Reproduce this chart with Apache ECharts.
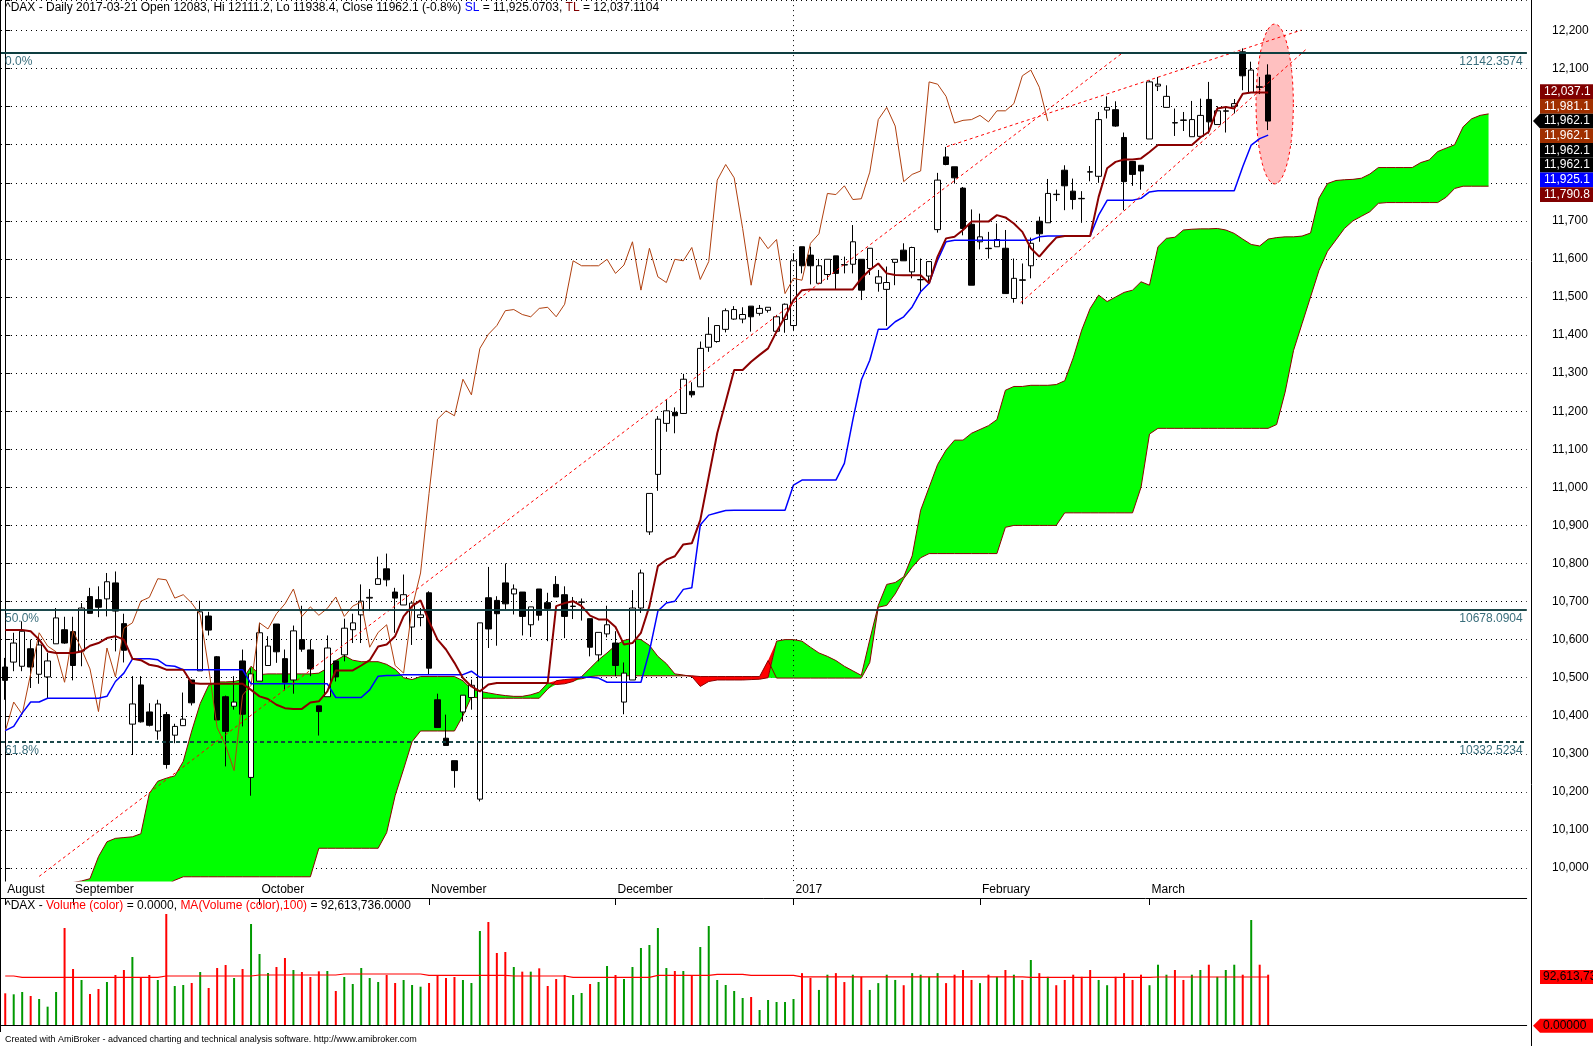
<!DOCTYPE html>
<html>
<head>
<meta charset="utf-8">
<title>^DAX Daily</title>
<script src="https://cdn.jsdelivr.net/npm/echarts@6/dist/echarts.min.js"></script>
<style>
html, body { margin: 0; padding: 0; background: #fff; }
#chart { width: 1593px; height: 1046px; }
</style>
</head>
<body>
<div id="chart"></div>
<script>
// ---- data ----
const monthNames = ['August', 'September', 'October', 'November', 'December', '2017', 'February', 'March'];
const monthStarts = [0, 8, 30, 50, 72, 93, 115, 135];

const opens = [10528,10541,10530,10576,10509,10502,10589,10626,10621,10570, 10713,10705,10707,10749,10642,10378,10481,10410,10360,10403,
  10349,10374,10494,10518,10662,10555,10450,10425,10544,10238, 10491,10532,10641,10550,10494,10600,10573,10426,10450,10544,
  10560,10626,10665,10709,10745,10786,10725,10691,10633,10658, 10723,10442,10341,10282,10410,10448,10181,10710,10703,10749,
  10720,10725,10639,10733,10697,10745,10718,10687,10698,10655, 10560,10615,10591,10436,10494,10683,10883,11034,11168,11197,
  11194,11252,11264,11368,11383,11415,11442,11442,11476,11457, 11465,11410,11441,11425,11632,11610,11536,11559,11608,11585,
  11586,11599,11575,11536,11520,11591,11623,11566,11545,11555, 11677,11868,11842,11786,11691,11645,11628,11632,11628,11496,
  11545,11582,11699,11695,11770,11833,11778,11759,11829,11817, 11991,11992,11919,11856,11846,11915,12054,11998,11958,11965,
  11921,11922,12019,11953,11988,12001,12144,12037,12052,12083];
const highs = [10552,10618,10648,10600,10609,10565,10683,10660,10660,10696, 10736,10740,10775,10779,10668,10504,10504,10433,10442,10410,
  10379,10461,10494,10702,10673,10557,10453,10504,10574,10525, 10644,10609,10641,10574,10637,10689,10600,10426,10611,10544,
  10655,10668,10745,10733,10818,10826,10736,10771,10698,10683, 10727,10458,10403,10282,10454,10495,10644,10791,10714,10800,
  10745,10725,10686,10733,10723,10767,10740,10712,10708,10655, 10619,10689,10622,10540,10730,10784,10984,11187,11229,11210,
  11298,11276,11383,11447,11425,11470,11476,11473,11476,11479, 11473,11453,11483,11615,11632,11632,11600,11599,11608,11606,
  11689,11599,11628,11571,11580,11599,11641,11632,11601,11593, 11826,11894,11842,11789,11730,11719,11671,11693,11676,11601,
  11588,11656,11711,11810,11782,11846,11811,11778,11844,11986, 12027,12014,11932,11856,11846,12069,12078,12056,11995,11986,
  12015,12021,12065,12001,12001,12020,12153,12118,12078,12111.2];
const lows = [10442,10517,10517,10473,10484,10446,10589,10589,10493,10530, 10669,10659,10661,10569,10540,10297,10382,10372,10337,10261,
  10328,10374,10427,10518,10611,10389,10267,10416,10372,10190, 10491,10532,10539,10467,10458,10568,10504,10348,10450,10490,
  10543,10591,10591,10675,10745,10740,10618,10691,10586,10635, 10508,10369,10322,10211,10385,10416,10175,10578,10584,10679,
  10666,10611,10607,10650,10596,10712,10604,10654,10650,10556, 10543,10606,10504,10404,10494,10670,10875,10991,11146,11142,
  11193,11236,11264,11356,11380,11407,11440,11431,11409,11451, 11459,11407,11406,11413,11562,11533,11536,11545,11520,11562,
  11562,11492,11558,11514,11424,11531,11595,11549,11510,11536, 11669,11846,11798,11662,11531,11625,11601,11632,11509,11485,
  11481,11549,11645,11695,11752,11728,11730,11695,11804,11800, 11969,11947,11728,11792,11782,11915,12041,11998,11923,11936,
  11921,11921,11929,11953,11932,11982,12043,12037,12033,11938.4];
const closes = [10493,10591,10622,10528,10586,10544,10657,10591,10532,10683, 10669,10685,10752,10675,10572,10431,10384,10375,10431,10272,
  10372,10391,10434,10673,10625,10389,10359,10436,10404,10510, 10618,10583,10568,10488,10623,10575,10523,10411,10578,10502,
  10630,10644,10701,10711,10760,10757,10709,10718,10696,10665, 10525,10369,10322,10256,10454,10480,10644,10628,10668,10694,
  10733,10661,10686,10664,10682,10712,10661,10688,10699,10580, 10619,10639,10532,10512,10683,10775,10984,11179,11201,11188,
  11284,11243,11365,11402,11425,11464,11467,11454,11448,11470, 11473,11448,11481,11595,11582,11582,11582,11599,11562,11584,
  11645,11518,11628,11553,11538,11599,11595,11630,11546,11593, 11807,11848,11813,11680,11531,11658,11627,11651,11509,11549,
  11544,11641,11666,11772,11769,11792,11756,11758,11828,11966, 11998,11949,11803,11822,11831,12065,12059,12027,11957,11964,
  11966,11977,11960,11989,11989,12008,12081,12096,12051,11962.1];

// turning line (TL) and standard line (SL)
const tenkan = [10625,10625,10625,10622,10600,10569,10565,10565,10565,10569, 10584,10591,10604,10609,10600,10550,10546,10534,10530,10521,
  10521,10521,10486,10484,10484,10484,10484,10484,10484,10468, 10451,10444,10429,10420,10418,10418,10435,10438,10464,10519,
  10519,10519,10532,10546,10582,10587,10609,10661,10688,10703, 10648,10600,10574,10539,10499,10477,10464,10482,10486,10486,
  10486,10486,10486,10486,10486,10688,10696,10701,10688,10663, 10653,10653,10633,10587,10591,10618,10688,10793,10810,10819,
  10850,10853,10914,11028,11142,11225,11308,11308,11330,11348, 11365,11409,11448,11492,11518,11520,11520,11520,11520,11520,
  11520,11549,11571,11588,11562,11558,11557,11557,11557,11536, 11606,11654,11658,11676,11698,11698,11698,11715,11709,11693,
  11671,11628,11606,11632,11656,11660,11660,11660,11660,11763, 11838,11855,11861,11861,11864,11881,11899,11899,11899,11899,
  11899,11919,11934,11995,11999,11995,12034,12037,12037,12037.1];
const kijun = [10361,10372,10407,10436,10436,10446,10446,10446,10446,10446, 10446,10446,10451,10490,10512,10549,10550,10550,10547,10532,
  10530,10521,10521,10521,10521,10521,10521,10521,10521,10484, 10484,10484,10484,10484,10484,10484,10484,10484,10484,10448,
  10448,10448,10448,10468,10504,10506,10506,10508,10508,10508, 10508,10508,10508,10508,10508,10517,10501,10501,10501,10501,
  10501,10501,10501,10501,10501,10501,10501,10501,10501,10501, 10499,10488,10488,10488,10488,10488,10569,10675,10696,10701,
  10732,10736,10901,10927,10933,10939,10940,10940,10940,10940, 10940,10940,10940,11006,11019,11019,11019,11019,11019,11063,
  11177,11282,11334,11415,11415,11435,11448,11474,11514,11536, 11597,11645,11649,11649,11649,11649,11649,11649,11649,11649,
  11649,11649,11658,11660,11660,11660,11660,11660,11660,11715, 11754,11754,11754,11754,11759,11776,11779,11779,11779,11779,
  11779,11779,11779,11779,11779,11779,11842,11899,11916,11925.07];

// cloud spans, already shifted forward (bars 0..175)
const spanA = [9940,9940,9940,9940,9940,9940,9940,9940,9962,9966, 9972,10030,10069,10078,10080,10082,10090,10196,10228,10236,
  10242,10280,10360,10432,10480,10489,10489,10490,10495,10530, 10508,10510,10510,10510,10510,10510,10510,10512,10525,10545,
  10558,10546,10542,10542,10542,10535,10522,10500,10495,10503, 10503,10503,10503,10503,10492,10470,10464,10460,10456,10453,
  10451,10451,10455,10462,10486,10482,10484,10490,10503,10525, 10547,10565,10585,10598,10603,10600,10585,10556,10537,10510,
  10507,10503,10477,10490,10494,10494,10494,10494,10495,10496, 10500,10596,10600,10600,10596,10580,10565,10556,10545,10530,
  10518,10506,10600,10690,10745,10750,10765,10820,10940,11000, 11060,11098,11124,11124,11142,11152,11162,11178,11255,11265,
  11265,11268,11268,11268,11270,11280,11340,11413,11470,11505, 11488,11500,11512,11518,11540,11531,11632,11654,11657,11676,
  11678,11679,11679,11680,11676,11667,11652,11638,11634,11652, 11656,11658,11658,11660,11668,11760,11798,11806,11808,11809,
  11812,11823,11840,11840,11840,11840,11840,11853,11860,11882, 11891,11900,11947,11968,11977,11981];
const spanB = [9940,9940,9940,9940,9940,9940,9940,9940,9940,9940, 9940,9940,9940,9940,9940,9940,9940,9940,9940,9955,
  9968,9977,9977,9977,9977,9977,9977,9977,9977,9977, 9977,9977,9977,9977,9977,9977,9977,10052,10052,10052,
  10052,10052,10052,10052,10052,10093,10190,10260,10332,10360, 10360,10360,10360,10360,10400,10450,10446,10446,10446,10446,
  10446,10446,10446,10446,10470,10492,10495,10497,10497,10503, 10505,10505,10505,10505,10505,10505,10505,10505,10505,10505,
  10505,10505,10503,10503,10503,10503,10503,10503,10503,10503, 10545,10499,10499,10499,10499,10499,10499,10499,10499,10499,
  10499,10499,10540,10685,10690,10720,10760,10790,10815,10826, 10826,10826,10826,10826,10826,10826,10826,10826,10895,10900,
  10900,10900,10900,10900,10900,10933,10933,10933,10933,10933, 10933,10933,10933,10933,11000,11140,11155,11155,11155,11155,
  11155,11155,11155,11155,11155,11155,11155,11155,11155,11155, 11165,11250,11360,11430,11500,11570,11620,11650,11680,11700,
  11712,11724,11746,11748,11748,11748,11748,11748,11748,11748, 11762,11785,11791,11791,11791,11791];

// volume, millions
const volume = [61.6,59.7,64.1,56.5,50.8,36.2,64.1,185.8,107.8,86.9, 60.3,69.8,83.1,96.4,105.9,130.7,92.0,96.4,86.9,212.5,
  75.5,77.4,81.2,102.1,71.7,109.7,115.4,90.7,107.8,193.4, 136.4,100.2,111.6,128.8,105.9,102.1,92.6,103.4,104.0,66.0,
  92.6,79.3,109.7,90.7,83.1,96.4,81.2,86.9,77.4,74.2, 81.2,95.8,90.7,92.6,86.9,81.2,180.1,197.2,138.3,140.2,
  111.6,102.8,102.8,109.1,75.5,88.8,96.4,58.4,62.2,79.3, 83.1,113.5,96.4,88.8,111.6,147.8,153.5,185.8,109.7,104.0,
  104.0,96.4,149.7,189.6,86.9,77.4,66.0,52.7,54.6,29.9, 48.9,45.1,45.1,50.8,100,91,68,97,100,83,
  97,93,68,81,97,87,77,100,97,93, 100,81,97,106,87,81,97,93,106,97,
  87,125,100,93,77,87,97,93,106,87, 77,93,100,87,97,77,116,97,106,87,
  97,106,116,93,106,116,97,201,116,97];
const volumeMA = [94.5,94.5,92.0,92.0,92.0,92.0,92.0,92.0,92.0,92.0, 92.0,92.0,92.0,92.0,92.0,92.0,92.0,92.0,92.0,94.5,
  94.5,94.5,94.5,94.5,94.5,94.5,94.5,94.5,94.5,94.5, 96.4,96.4,96.4,96.4,96.4,96.4,96.4,96.4,96.4,96.4,
  98.3,98.3,98.3,98.3,98.3,98.3,98.3,98.3,98.3,98.3, 95.8,95.8,95.8,95.8,95.8,95.8,95.8,95.8,95.8,95.8,
  94.5,94.5,94.5,94.5,94.5,94.5,94.5,92.0,92.0,92.0, 92.0,92.0,92.0,92.0,92.0,92.0,92.0,95.8,95.8,95.8,
  95.8,95.8,95.8,95.8,97.7,97.7,97.7,97.7,95.8,95.8, 95.8,95.8,95.8,95.8,93.0,93.0,93.0,93.0,93.0,93.0,
  93.0,93.0,93.0,93.0,93.0,93.0,93.0,93.0,93.0,93.0, 93.0,93.0,93.0,93.0,93.0,93.0,93.0,93.0,93.0,93.0,
  93.0,92.0,92.0,92.0,92.0,92.0,92.0,92.0,92.0,92.0, 92.0,92.0,92.0,92.0,92.0,92.0,92.6,92.6,92.6,92.6,
  92.6,92.6,92.6,92.6,92.6,92.6,92.6,92.6,92.6,92.6136];

const fibLevels = [12142.3574, 10678.0904, 10332.5234];
const fibNames = ['0.0%', '50.0%', '61.8%'];

// hand-drawn studies: [bar, price] end points
const trendLines = [
  [[4.0, 9978], [131.8, 12141]],
  [[111.1, 11895], [152.9, 12201]],
  [[119.8, 11485], [153.5, 12151]]
];
const marker = [149.77, 12007, 2.2, 210];   // centre bar, centre price, half-width (bars), half-height (points)

const tagValues = [12037.1, 11981.1, 11962.1, 11962.1, 11962.1, 11962.1, 11925.1, 11790.8];
const tagColors = ['#800000', '#A03000', '#000000', '#A03000', '#000000', '#000000', '#0000FF', '#800000'];
const closeTag = 2;

// ---- layout ----
const FONT = 'Liberation Sans, Arial, sans-serif';
const NBARS = closes.length;
const NSLOTS = 180;
const SLOT = 8.476;
const PLOT_LEFT = 1;
const PLOT_W = NSLOTS * SLOT;
const AXIS_X = 1531;
const PX_PT = 0.3807;
const Y_12200 = 30.5;
const Y_MIN = 9900;
const Y_MAX = 12200 + Y_12200 / PX_PT;      // price at the top pixel row
const mainH = (Y_MAX - Y_MIN) * PX_PT;
const VOL_TOP = 898, VOL_H = 127.7, VOL_MAX = VOL_H * 1.902;

const cats = Array.from({length: NSLOTS}, (_, i) => String(i));
const candles = opens.map((o, i) => [o, closes[i], lows[i], highs[i]]);
const cloudBase = spanA.map((a, i) => Math.min(a, spanB[i]));
const cloudGreen = spanA.map((a, i) => Math.max(a - spanB[i], 0));
const cloudRed = spanA.map((a, i) => Math.max(spanB[i] - a, 0));
const chikou = closes.slice(26);
const isMonth = (idx) => monthStarts.indexOf(idx) >= 0;

const fibMarks = [];
fibLevels.forEach((lv, k) => {
  const ls = {color: '#0E3E40', width: k === 0 ? 2 : 1.5, type: k === 2 ? [4, 3] : 'solid'};
  const lab = {show: true, color: '#3A6E7C', fontSize: 12, fontFamily: FONT, distance: [4, 3]};
  fibMarks.push({yAxis: lv, lineStyle: ls, label: Object.assign({}, lab, {position: 'insideStartBottom', formatter: fibNames[k]})});
  fibMarks.push({yAxis: lv, lineStyle: ls, label: Object.assign({}, lab, {position: 'insideEndBottom', formatter: lv.toFixed(4)})});
});
fibMarks.push({xAxis: 93, lineStyle: {color: '#000', width: 1, type: [1, 4]}, label: {show: false}});

const txt = (color) => ({color: color, fontSize: 12, fontWeight: 'normal', fontFamily: FONT});

const option = {
  animation: false,
  backgroundColor: '#fff',
  textStyle: {fontFamily: FONT},
  title: [
    {left: 5, top: 2, padding: 0, z: 20,
      text: '{k|^DAX - Daily 2017-03-21 Open 12083, Hi 12111.2, Lo 11938.4, Close 11962.1 (-0.8%) }{b|SL}{k| = 11,925.0703, }{r|TL}{k| = 12,037.1104}',
      textStyle: {fontWeight: 'normal', rich: {k: txt('#000'), b: txt('#0000FF'), r: txt('#800000')}}},
    {left: 5, top: 900, padding: 0, z: 20,
      text: '{k|^DAX - }{r|Volume (color)}{k| = 0.0000, }{r|MA(Volume (color),100)}{k| = 92,613,736.0000}',
      textStyle: {fontWeight: 'normal', rich: {k: txt('#000'), r: txt('#FF0000')}}},
    {left: 5, top: 1035, padding: 0, z: 20,
      text: 'Created with AmiBroker - advanced charting and technical analysis software. http://www.amibroker.com',
      textStyle: {color: '#000', fontSize: 9, fontWeight: 'normal', fontFamily: FONT}}
  ],
  grid: [
    {left: PLOT_LEFT, top: 0, width: PLOT_W, height: mainH},
    {left: PLOT_LEFT, top: 881, width: PLOT_W, height: 17},
    {left: PLOT_LEFT, top: VOL_TOP, width: PLOT_W, height: VOL_H}
  ],
  xAxis: [
    {type: 'category', gridIndex: 0, data: cats, boundaryGap: true, show: false},
    {type: 'value', gridIndex: 0, min: -0.5, max: NSLOTS - 0.5, show: false},
    {type: 'category', gridIndex: 1, data: cats, boundaryGap: true, position: 'top', z: 10,
      axisLine: {show: true, lineStyle: {color: '#000', width: 1}},
      axisTick: {show: true, inside: true, length: 7, alignWithLabel: true, interval: (i) => isMonth(i), lineStyle: {color: '#000'}},
      axisLabel: {show: true, inside: true, interval: (i) => isMonth(i), margin: 3, align: 'left', padding: [0, 0, 0, 2],
        color: '#000', fontSize: 12, fontFamily: FONT,
        formatter: (v) => monthNames[monthStarts.indexOf(Number(v))] || ''},
      splitLine: {show: false}},
    {type: 'category', gridIndex: 2, data: cats, boundaryGap: true, position: 'top', z: 10,
      axisLine: {show: true, lineStyle: {color: '#000', width: 1}},
      axisTick: {show: false}, axisLabel: {show: false}, splitLine: {show: false}}
  ],
  yAxis: [
    {type: 'value', gridIndex: 0, position: 'right', offset: AXIS_X - (PLOT_LEFT + PLOT_W),
      min: Y_MIN, max: Y_MAX, interval: 100,
      axisLine: {show: true, lineStyle: {color: '#000', width: 1}},
      axisTick: {show: true, length: 5, lineStyle: {color: '#000'}},
      axisLabel: {margin: 21, color: '#000', fontSize: 12, fontFamily: FONT,
        formatter: (v) => (v < 10000 || v > 12200) ? '' : v.toLocaleString('en-US')},
      splitLine: {show: true, lineStyle: {color: '#000', width: 1, type: [1, 4]}}},
    {type: 'value', gridIndex: 1, show: false},
    {type: 'value', gridIndex: 2, min: 0, max: VOL_MAX, position: 'right', offset: AXIS_X - (PLOT_LEFT + PLOT_W),
      axisLine: {show: true, lineStyle: {color: '#000'}}, axisTick: {show: false}, axisLabel: {show: false},
      splitLine: {show: false}}
  ],
  series: [
    {name: 'cloudBase', type: 'line', xAxisIndex: 0, yAxisIndex: 0, stack: 'cloud', data: cloudBase,
      symbol: 'none', lineStyle: {opacity: 0}, z: 1},
    {name: 'cloudUp', type: 'line', xAxisIndex: 0, yAxisIndex: 0, stack: 'cloud', data: cloudGreen,
      symbol: 'none', lineStyle: {opacity: 0}, areaStyle: {color: '#00FF00', opacity: 1}, z: 1},
    {name: 'cloudDown', type: 'line', xAxisIndex: 0, yAxisIndex: 0, stack: 'cloud', data: cloudRed,
      symbol: 'none', lineStyle: {opacity: 0}, areaStyle: {color: '#FF0000', opacity: 1}, z: 1},
    {name: 'spanA', type: 'line', xAxisIndex: 0, yAxisIndex: 0, data: spanA, symbol: 'none',
      lineStyle: {color: '#8B0000', width: 1}, z: 1},
    {name: 'spanB', type: 'line', xAxisIndex: 0, yAxisIndex: 0, data: spanB, symbol: 'none',
      lineStyle: {color: '#8B0000', width: 1}, z: 1},
    {name: 'marker', type: 'custom', xAxisIndex: 1, yAxisIndex: 0, data: [marker], z: 2,
      renderItem: (params, api) => {
        const c = api.coord([api.value(0), api.value(1)]);
        const s = api.size([api.value(2), api.value(3)]);
        const pts = [];
        for (let k = 0; k < 90; k++) {
          const t = k / 90 * Math.PI * 2;
          pts.push([c[0] + s[0] * Math.cos(t), c[1] + s[1] * Math.sin(t)]);
        }
        return {type: 'polygon', shape: {points: pts},
          style: {fill: '#FFC0C0', stroke: '#FF0000', lineWidth: 1, lineDash: [3, 3]}};
      }},
    {name: 'price', type: 'candlestick', xAxisIndex: 0, yAxisIndex: 0, data: candles, barWidth: 6, z: 3,
      itemStyle: {color: '#FFFFFF', color0: '#000000', borderColor: '#000000', borderColor0: '#000000', borderWidth: 1}},
    {name: 'chikou', type: 'line', xAxisIndex: 0, yAxisIndex: 0, data: chikou, symbol: 'none',
      lineStyle: {color: '#B0400F', width: 1}, z: 4},
    {name: 'SL', type: 'line', xAxisIndex: 0, yAxisIndex: 0, data: kijun, symbol: 'none',
      lineStyle: {color: '#0000FF', width: 1.5}, z: 4,
      markLine: {silent: true, symbol: ['none', 'none'], animation: false, data: fibMarks}},
    {name: 'TL', type: 'line', xAxisIndex: 0, yAxisIndex: 0, data: tenkan, symbol: 'none',
      lineStyle: {color: '#8B0000', width: 2}, z: 4}
  ].concat(trendLines.map((seg, k) => ({
    name: 'trend' + k, type: 'line', xAxisIndex: 1, yAxisIndex: 0, data: seg, symbol: 'none', z: 4,
    lineStyle: {color: '#FF0000', width: 1, type: [3, 3]}
  }))).concat([
    {name: 'Volume', type: 'bar', xAxisIndex: 3, yAxisIndex: 2, barWidth: 2, z: 2,
      data: volume.map((v, i) => ({value: v, itemStyle: {color: closes[i] >= opens[i] ? '#009900' : '#FF0000'}}))},
    {name: 'VolMA', type: 'line', xAxisIndex: 3, yAxisIndex: 2, data: volumeMA, symbol: 'none',
      lineStyle: {color: '#FF0000', width: 1.2}, z: 3}
  ])
};

const chart = echarts.init(document.getElementById('chart'));
chart.setOption(option);

// value tags on the right edge, stacked around the last close
const TAG_H = 14.7;
const closeY = chart.convertToPixel({yAxisIndex: 0}, closes[NBARS - 1]);
const fmt1 = (v) => v.toLocaleString('en-US', {minimumFractionDigits: 1, maximumFractionDigits: 1});
const gfx = [
  {type: 'rect', shape: {x: 0, y: 881.5, width: AXIS_X, height: 25.5}, style: {fill: '#fff'}, z: 5, silent: true},
  {type: 'line', shape: {x1: AXIS_X + 0.5, y1: 0, x2: AXIS_X + 0.5, y2: 1046}, style: {stroke: '#000', lineWidth: 1}, z: 20},
  {type: 'line', shape: {x1: 0.5, y1: 0, x2: 0.5, y2: 1032}, style: {stroke: '#000', lineWidth: 1}, z: 20}
];
tagValues.forEach((v, k) => {
  const cy = closeY + (k - closeTag) * TAG_H;
  gfx.push({type: 'rect', shape: {x: 1540, y: cy - TAG_H / 2, width: 60, height: TAG_H}, style: {fill: tagColors[k]}, z: 30});
  gfx.push({type: 'text', x: 1544, y: cy, style: {text: fmt1(v), fill: '#fff', font: '12px ' + FONT,
    textAlign: 'left', textVerticalAlign: 'middle', align: 'left', verticalAlign: 'middle'}, z: 31});
  if (k === closeTag) {
    gfx.push({type: 'polygon', shape: {points: [[1533, cy], [1540, cy - TAG_H / 2], [1540, cy + TAG_H / 2]]}, style: {fill: '#000'}, z: 30});
  }
});
const maY = chart.convertToPixel({yAxisIndex: 2}, volumeMA[NBARS - 1]);
const zeroY = chart.convertToPixel({yAxisIndex: 2}, 0);
[[maY, '92,613,736', false], [zeroY, '0.00000', true]].forEach(([cy, t, arrow]) => {
  gfx.push({type: 'rect', shape: {x: 1540, y: cy - 7, width: 60, height: 14}, style: {fill: '#FF0000'}, z: 30});
  gfx.push({type: 'text', x: 1543, y: cy, style: {text: t, fill: '#000', font: '12px ' + FONT,
    textAlign: 'left', textVerticalAlign: 'middle', align: 'left', verticalAlign: 'middle'}, z: 31});
  if (arrow) gfx.push({type: 'polygon', shape: {points: [[1533, cy], [1540, cy - 7], [1540, cy + 7]]}, style: {fill: '#FF0000'}, z: 30});
});
chart.setOption({graphic: {elements: gfx}});
</script>
</body>
</html>
